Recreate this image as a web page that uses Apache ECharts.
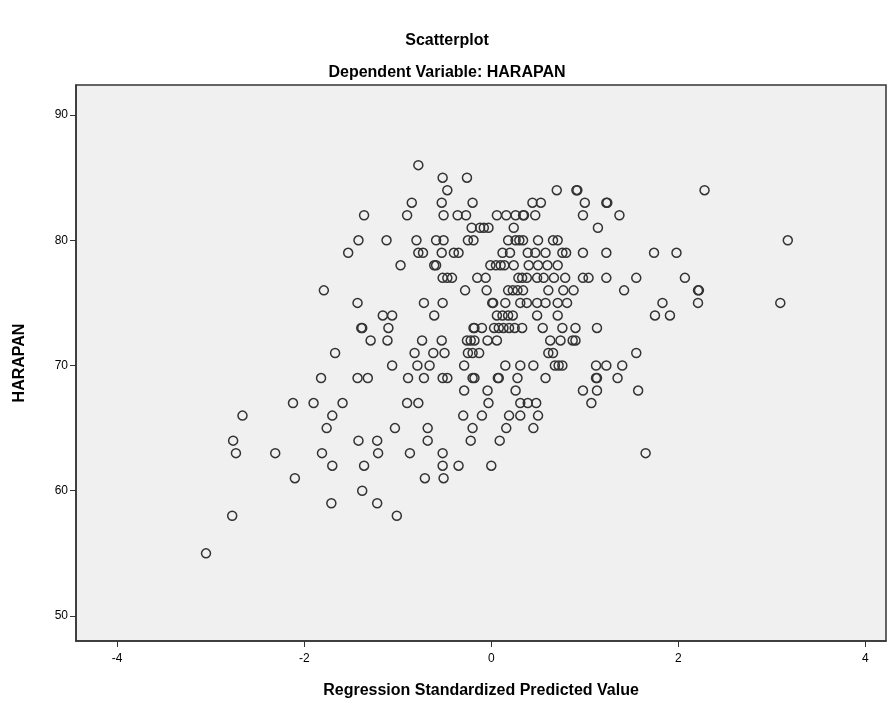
<!DOCTYPE html>
<html>
<head>
<meta charset="utf-8">
<script src="https://cdn.jsdelivr.net/npm/echarts@6/dist/echarts.min.js"></script>
<style>
html,body{margin:0;padding:0;background:#fff;}
#chart{width:894px;height:711px;}
</style>
</head>
<body>
<div id="chart"></div>
<script>
// HARAPAN (dependent variable) levels and the standardized predicted values observed at each level
const harapanLevels = [86, 85, 84, 83, 82, 81, 80, 79, 78, 77, 76, 75, 74, 73, 72, 71, 70, 69, 68, 67, 66, 65, 64, 63, 62, 61, 60, 59, 58, 55];
const predictedByLevel = [
  [-0.78],
  [-0.52, -0.26],
  [-0.47, 0.70, 0.91, 0.92, 2.28],
  [-0.85, -0.53, -0.20, 0.44, 0.53, 1.00, 1.23, 1.24],
  [-1.36, -0.90, -0.51, -0.36, -0.27, 0.06, 0.16, 0.26, 0.34, 0.35, 0.47, 0.98, 1.37],
  [-0.21, -0.12, -0.08, -0.03, 0.24, 1.14],
  [-1.42, -1.12, -0.80, -0.59, -0.51, -0.25, -0.19, 0.18, 0.26, 0.30, 0.34, 0.50, 0.66, 0.71, 3.17],
  [-1.53, -0.78, -0.73, -0.53, -0.40, -0.35, 0.12, 0.20, 0.39, 0.47, 0.58, 0.76, 0.80, 0.98, 1.23, 1.74, 1.98],
  [-0.97, -0.61, -0.59, -0.01, 0.05, 0.10, 0.14, 0.24, 0.40, 0.50, 0.60, 0.71],
  [-0.52, -0.47, -0.42, -0.15, -0.06, 0.29, 0.33, 0.38, 0.49, 0.56, 0.67, 0.79, 0.98, 1.04, 1.23, 1.55, 2.07],
  [-1.79, -0.28, -0.05, 0.18, 0.23, 0.28, 0.34, 0.61, 0.77, 0.88, 1.42, 2.21, 2.22],
  [-1.43, -0.72, -0.52, 0.01, 0.02, 0.15, 0.31, 0.38, 0.49, 0.58, 0.71, 0.81, 1.83, 2.21, 3.09],
  [-1.16, -1.06, -0.61, 0.06, 0.12, 0.18, 0.23, 0.49, 0.71, 1.75, 1.91],
  [-1.39, -1.38, -1.10, -0.19, -0.18, -0.10, 0.03, 0.08, 0.13, 0.19, 0.25, 0.33, 0.55, 0.76, 0.90, 1.13],
  [-1.29, -1.11, -0.74, -0.53, -0.26, -0.22, -0.18, -0.04, 0.06, 0.63, 0.74, 0.87, 0.90],
  [-1.67, -0.82, -0.62, -0.50, -0.25, -0.20, -0.13, 0.61, 0.66, 1.55],
  [-1.06, -0.79, -0.66, -0.29, 0.15, 0.31, 0.45, 0.68, 0.72, 0.76, 1.12, 1.23, 1.40],
  [-1.82, -1.43, -1.32, -0.89, -0.72, -0.52, -0.47, -0.20, -0.18, 0.07, 0.08, 0.28, 0.58, 1.12, 1.13, 1.35],
  [-0.29, -0.04, 0.26, 0.98, 1.13, 1.57],
  [-2.12, -1.90, -1.59, -0.90, -0.78, -0.03, 0.31, 0.39, 0.48, 1.07],
  [-2.66, -1.70, -0.30, -0.10, 0.19, 0.31, 0.50],
  [-1.76, -1.03, -0.68, -0.20, 0.16, 0.45],
  [-2.76, -1.42, -1.22, -0.68, -0.22, 0.09],
  [-2.73, -2.31, -1.81, -1.21, -0.87, -0.52, 1.65],
  [-1.70, -1.36, -0.52, -0.35, 0.00],
  [-2.10, -0.71, -0.51],
  [-1.38],
  [-1.71, -1.22],
  [-2.77, -1.01],
  [-3.05]
];
const xTickValues = [-4, -2, 0, 2, 4];
const yTickValues = [50, 60, 70, 80, 90];

const points = [];
harapanLevels.forEach((lvl, i) => {
  predictedByLevel[i].forEach(x => points.push([x, lvl]));
});

const FONT = '"Liberation Sans", Arial, sans-serif';
const chart = echarts.init(document.getElementById('chart'), null, {renderer: 'canvas'});
chart.setOption({
  animation: false,
  backgroundColor: '#ffffff',
  title: [
    {text: 'Scatterplot', left: 'center', top: 28,
     textStyle: {fontFamily: FONT, fontSize: 16, fontWeight: 'bold', color: '#000'}},
    {text: 'Dependent Variable: HARAPAN', left: 'center', top: 60,
     textStyle: {fontFamily: FONT, fontSize: 16, fontWeight: 'bold', color: '#000'}}
  ],
  grid: {left: 76, right: 8, top: 85, bottom: 70, show: true,
         backgroundColor: '#f0f0f0', borderColor: '#333', borderWidth: 1.5},
  xAxis: {
    type: 'value', min: -4.44, max: 4.22,
    name: 'Regression Standardized Predicted Value', nameLocation: 'middle', nameGap: 42,
    nameTextStyle: {fontFamily: FONT, fontSize: 16, fontWeight: 'bold', color: '#000'},
    splitLine: {show: false},
    axisLine: {show: true, onZero: false, lineStyle: {color: '#333', width: 1.5}},
    axisTick: {show: true, length: 6, customValues: xTickValues, lineStyle: {color: '#333'}},
    axisLabel: {customValues: xTickValues, fontFamily: FONT, fontSize: 12, color: '#000', margin: 12}
  },
  yAxis: {
    type: 'value', min: 48.0, max: 92.4,
    name: 'HARAPAN', nameLocation: 'middle', nameGap: 48, nameRotate: 90,
    nameTextStyle: {fontFamily: FONT, fontSize: 16, fontWeight: 'bold', color: '#000'},
    splitLine: {show: false},
    axisLine: {show: true, onZero: false, lineStyle: {color: '#333', width: 1.5}},
    axisTick: {show: true, length: 6, customValues: yTickValues, lineStyle: {color: '#333'}},
    axisLabel: {customValues: yTickValues, fontFamily: FONT, fontSize: 12, color: '#000', margin: 8}
  },
  series: [{
    type: 'scatter',
    data: points,
    symbol: 'circle',
    symbolSize: 9,
    itemStyle: {color: 'rgba(0,0,0,0)', borderColor: '#333', borderWidth: 1.5, opacity: 1}
  }]
});
</script>
</body>
</html>
